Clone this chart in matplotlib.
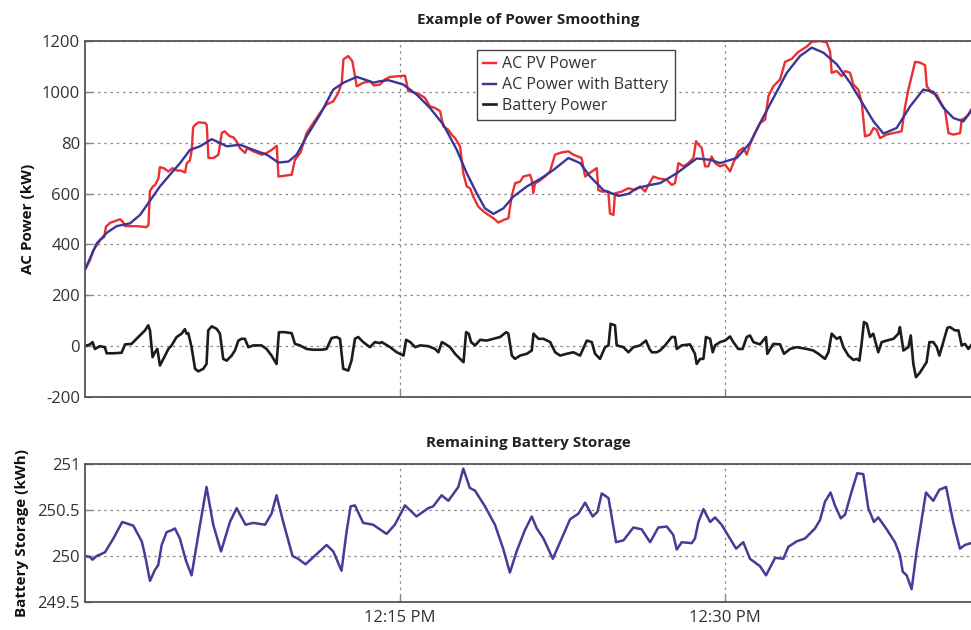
import numpy as np
import matplotlib
matplotlib.use("Agg")
import matplotlib.pyplot as plt
from matplotlib.ticker import FixedLocator, FixedFormatter

plt.rcParams['font.family'] = ['Open Sans', 'DejaVu Sans']

# time is minutes after 12:00 PM
pv_t = [0.46, 0.7, 0.85, 1.16, 1.35, 1.43, 1.62, 2.08, 2.2, 2.31, 2.85, 3.3, 3.39, 3.46, 3.6, 3.7, 3.85, 3.92,
        4.1, 4.31, 4.5, 4.69, 4.9, 5.08, 5.16, 5.3, 5.39, 5.45, 5.54, 5.7, 6.0, 6.08, 6.16, 6.4, 6.62, 6.77,
        6.9, 7.15, 7.3, 7.46, 7.6, 7.85, 7.95, 8.23, 8.62, 8.85, 9.08, 9.31, 9.39, 10.0, 10.15, 10.4, 10.69,
        11.0, 11.31, 11.6, 11.92, 12.15, 12.31, 12.39, 12.61, 12.8, 13.0, 13.31, 13.62, 13.8, 14.08,
        14.31, 14.54, 15.0, 15.23, 15.38, 15.61, 15.92, 16.15, 16.38, 16.61, 16.85, 17.0, 17.23, 17.38,
        17.54, 17.77, 17.92, 18.08, 18.23, 18.38, 18.61, 18.85, 19.08, 19.31, 19.54, 19.77, 20.0, 20.15,
        20.31, 20.54, 20.69, 21.0, 21.08, 21.15, 21.23, 21.38, 21.69, 21.92, 22.15, 22.46, 22.77, 23.0,
        23.38, 23.54, 23.85, 24.08, 24.15, 24.31, 24.61, 24.69, 24.85, 24.92, 25.23, 25.54, 25.85, 26.08,
        26.31, 26.46, 26.69, 26.92,
        27.31, 27.54, 27.69, 27.85, 28.08, 28.31, 28.54, 28.66, 28.77, 28.92, 29.08, 29.23, 29.38, 29.54,
        29.77, 30.0, 30.23, 30.38, 30.62, 30.85, 31.0, 31.15, 31.38, 31.62, 31.85, 32.0, 32.23, 32.54,
        32.77, 33.08, 33.38, 33.77, 34.0, 34.38, 34.69, 34.85, 34.92, 35.15, 35.38, 35.54, 35.77, 35.92,
        36.15, 36.31, 36.46, 36.69, 36.85, 37.0, 37.15, 37.46, 37.77, 38.15, 38.31, 38.46, 38.77, 39.0,
        39.23, 39.31, 39.54, 39.77, 39.92, 40.15, 40.31, 40.54, 40.85, 40.92, 41.08, 41.23, 41.35]
pv_kw = [300, 340, 378, 417, 430, 470, 485, 499, 490, 472, 472, 468, 476, 610, 628, 634, 660, 704,
         700, 687, 700, 691, 690, 683, 720, 730, 772, 860, 870, 880, 878, 870, 740, 740, 753, 838,
         845, 825, 822, 805, 780, 760, 779, 766, 753, 760, 772, 788, 667, 674, 733, 760, 838,
         878, 917, 950, 963, 996, 1036, 1128, 1141, 1121, 1022, 1036, 1042, 1025, 1029,
         1049, 1059, 1062, 1064, 1003, 999, 989, 976, 943, 937, 924, 864, 851, 832,
         818, 786, 680, 628, 621, 588, 549, 530, 516, 503, 486, 496, 503, 588,
         641, 647, 667, 674, 654, 601, 641, 647, 667, 687, 753, 762, 766, 753,
         740, 667, 687, 700, 614, 608, 608, 522, 516, 601, 608, 621, 614, 628,
         608, 634, 667, 660,
         654, 634, 641, 720, 707, 720, 740, 806, 793, 780, 707, 707, 746, 720,
         707, 714, 687, 720, 766, 780, 753, 793, 838, 878, 891, 983, 1022, 1049,
         1118, 1130, 1157, 1178, 1197, 1200, 1195, 1157, 1075, 1082, 1062, 1082, 1075, 1029,
         1009, 957, 825, 832, 858, 851, 818, 832, 838, 845, 943, 1009, 1118, 1115,
         1105, 1022, 996, 989, 963, 930, 838, 832, 838, 891, 898, 911, 930]

ac_t = [0.46, 1.0, 1.47, 1.92, 2.54, 3.0, 3.46, 3.92, 4.38, 4.85, 5.31, 5.77, 6.31, 6.69, 7.0, 7.62,
        8.23, 8.85, 9.39, 9.85, 10.23, 10.69, 11.31, 11.92, 12.39, 13.0, 13.46, 13.77, 14.08, 14.46,
        15.15, 15.77, 16.38, 17.0, 17.62, 18.08, 18.54, 18.92, 19.31, 19.77, 20.23, 20.85, 21.46,
        22.08, 22.77, 23.31, 23.77, 24.38, 25.08, 25.54, 25.92, 26.54, 27.0, 27.77, 28.69, 29.31,
        29.77, 30.54, 31.15, 31.62, 32.23, 32.85, 33.46, 34.0, 34.54, 35.15, 35.77, 36.38, 36.85,
        37.31, 37.92, 38.54, 39.15, 39.62, 40.08, 40.54, 41.0, 41.35]
ac_kw = [301, 404, 446, 472, 483, 516, 572, 628, 674, 720, 772, 786, 814, 799, 786, 792,
         772, 753, 722, 726, 753, 825, 911, 1009, 1036, 1059, 1046, 1036, 1042, 1046,
         1029, 989, 937, 871, 772, 680, 601, 542, 520, 542, 588, 628, 657,
         693, 740, 720, 667, 614, 591, 599, 621, 634, 641, 680, 738, 733,
         720, 740, 799, 878, 976, 1075, 1141, 1174, 1154, 1109, 1036, 950, 884,
         836, 858, 943, 1009, 1000, 937, 897, 884, 924]

batt_t = [0.46, 0.69, 0.81, 0.92, 1.15, 1.38, 1.46, 1.77, 2.15, 2.31, 2.61, 2.84, 3.23, 3.38, 3.46, 3.58,
          3.69, 3.80, 3.92, 4.08, 4.31, 4.46, 4.69, 4.92, 5.07, 5.15, 5.23, 5.38, 5.54, 5.69, 5.92, 6.07,
          6.15, 6.31, 6.54, 6.69, 6.84, 7.0, 7.23, 7.38, 7.54, 7.69, 7.84, 8.0, 8.23, 8.61, 8.84, 9.07,
          9.30, 9.41, 9.69, 10.0, 10.15, 10.38, 10.69, 11.0, 11.38, 11.61, 11.84, 12.07, 12.23, 12.38,
          12.61, 12.76, 12.92, 13.07, 13.30, 13.61, 13.84, 14.07,
          14.16, 14.54, 14.85, 15.16, 15.28, 15.47, 15.70, 15.93, 16.31, 16.62, 16.77, 16.93, 17.08,
          17.31, 17.54, 17.77, 17.93, 18.05, 18.17, 18.28, 18.46, 18.70, 19.0, 19.31, 19.62, 19.90,
          20.0, 20.16, 20.31, 20.54, 20.85, 21.08, 21.16, 21.39, 21.62, 21.93, 22.16, 22.39, 22.69,
          23.0, 23.31, 23.62, 23.85, 24.0, 24.23, 24.46, 24.62, 24.72, 24.92, 25.0, 25.31, 25.54,
          25.77, 26.08, 26.35, 26.51, 26.62, 26.85,
          27.0, 27.23, 27.54, 27.69, 27.77, 28.0, 28.38, 28.61, 28.69, 28.85, 29.0, 29.12, 29.31,
          29.43, 29.54, 29.77, 30.0, 30.23, 30.38, 30.61, 30.81, 31.0, 31.15, 31.31, 31.61, 31.89,
          31.95, 32.23, 32.54, 32.72, 33.0, 33.31, 33.77, 34.07, 34.31, 34.61, 34.77, 34.92, 35.15,
          35.31, 35.46, 35.69, 35.92, 36.07, 36.20, 36.30, 36.41, 36.54, 36.69, 36.84, 37.07, 37.23,
          37.46, 37.77, 38.0, 38.07, 38.23, 38.46, 38.57, 38.69, 38.81, 39.0, 39.15, 39.30, 39.43,
          39.61, 39.77, 39.89, 40.07, 40.26, 40.38, 40.61, 40.77, 40.92, 41.07, 41.23, 41.35]
batt_kw = [0, 7, 16, -11, 0, -4, -28, -28, -26, 7, 9, 29, 62, 82, 62, -43,
           -24, -11, -76, -50, -11, 3, 36, 49, 67, 49, 51, -4, -89, -99, -89, -70,
           62, 78, 68, 49, -50, -57, -37, -17, 22, 29, 29, -4, 3, 3, -11, -37,
           -70, 55, 55, 51, 9, 3, -11, -14, -14, -11, 32, 36, 29, -89,
           -96, -57, 29, 36, 16, -4, 16, 12,
           16, -4, -24, -37, 25, 16, -4, 3, 0, -11, -24, 16, 9,
           -4, -30, -50, -63, 55, 49, 16, 3, 25, 22, 29, 36, 55,
           49, -37, -50, -37, -30, -17, 49, 29, 29, 16, -24, -37, -30,
           -24, -37, 22, 16, -30, -50, -4, 3, 88, 82, 3, -4, -24,
           -4, 3, 22, -11, -24, -24,
           -17, 3, 36, 36, -11, 3, 7, -30, -70, -50, -50, 36, 29,
           -24, 3, 16, 22, 38, 16, -11, -11, 36, 42, 16, 7, 36,
           -30, 9, 7, -30, -11, -4, -11, -17, -30, -50, -24, 49, 29,
           36, -4, -37, -54, -50, -57, 9, 95, 88, 36, 49, -24, 16,
           22, 29, 49, 75, -17, -4, 42, -70, -122, -103, -83, -63, 16,
           16, -4, -37, 16, 72, 75, 62, 62, 3, 9, -11, 3]

soc_t = [0.46, 0.69, 0.81, 1.0, 1.38, 1.77, 2.18, 2.69, 3.08, 3.23, 3.46, 3.69, 3.84, 4.0, 4.23, 4.46,
         4.61, 4.84, 5.12, 5.38, 5.69, 6.07, 6.38, 6.74, 7.15, 7.46, 7.87, 8.23, 8.77, 9.07, 9.30, 9.61,
         10.04, 10.30, 10.64, 11.15, 11.61, 11.92, 12.30, 12.53, 12.72, 12.92, 13.30, 13.76, 14.38,
         14.76, 15.23, 15.76, 16.30, 16.53, 16.92, 17.23, 17.69, 17.92, 18.22, 18.46, 18.92, 19.38,
         19.76, 20.07, 20.38, 20.76, 21.08, 21.31, 21.62, 22.05, 22.46, 22.85, 23.23, 23.54, 23.89,
         24.11, 24.31, 24.62, 24.97, 25.31, 25.77, 26.15, 26.54, 26.92, 27.31, 27.61, 27.77, 28.0,
         28.46, 28.61, 28.77, 29.0, 29.31, 29.54, 29.84, 30.23, 30.51, 30.84, 31.15, 31.61, 31.89,
         32.31, 32.69, 32.92, 33.31, 33.69, 34.15, 34.38, 34.61, 34.87, 35.07, 35.34, 35.54, 35.84,
         36.10, 36.38, 36.61, 36.87, 37.07, 37.46, 37.84, 38.07, 38.20, 38.38, 38.61, 38.84, 39.27,
         39.61, 39.89, 40.20, 40.53, 40.84, 41.07, 41.35]
soc_kwh = [250.0, 249.99, 249.96, 250.0, 250.04, 250.19, 250.37, 250.33, 250.16, 250.01, 249.73, 249.85,
           249.90, 250.12, 250.26, 250.28, 250.30, 250.19, 249.95, 249.79, 250.23, 250.75, 250.34,
           250.05, 250.37, 250.52, 250.34, 250.36, 250.34, 250.46, 250.66, 250.37, 250.0, 249.97,
           249.91, 250.02, 250.12, 250.05, 249.84, 250.26, 250.54, 250.55, 250.36, 250.34, 250.24,
           250.34, 250.55, 250.43, 250.52, 250.54, 250.66, 250.60, 250.75, 250.95, 250.74, 250.71,
           250.54, 250.34, 250.08, 249.82, 250.05, 250.28, 250.43, 250.30, 250.19, 249.97, 250.19,
           250.40, 250.46, 250.58, 250.43, 250.48, 250.68, 250.63, 250.15, 250.17, 250.31, 250.29,
           250.15, 250.31, 250.32, 250.23, 250.07, 250.15, 250.14, 250.19, 250.37, 250.51, 250.37,
           250.42, 250.34, 250.19, 250.08, 250.15, 249.97, 249.89, 249.79, 249.98, 249.97, 250.10,
           250.16, 250.19, 250.30, 250.39, 250.59, 250.69, 250.55, 250.41, 250.45, 250.70, 250.90,
           250.89, 250.52, 250.37, 250.42, 250.29, 250.15, 250.01, 249.83, 249.79, 249.64, 250.05,
           250.69, 250.60, 250.72, 250.75, 250.37, 250.08, 250.12, 250.14]

xticks = [15, 30]
xlabels = ["12:15 PM", "12:30 PM"]
power_ticks = [-200, 0, 200, 400, 600, 800, 1000, 1200]
power_labels = ["-200", "0", "200", "400", "600", "80", "1000", "1200"]   # "80" as printed
soc_ticks = [249.5, 250, 250.5, 251]
soc_labels = ["249.5", "250", "250.5", "251"]

fig = plt.figure(figsize=(9.71, 6.30), dpi=100)
ax1 = fig.add_axes([0.0875, 0.3698, 0.9125, 0.5651])
ax2 = fig.add_axes([0.0875, 0.0444, 0.9125, 0.2191])

def style(ax):
    for s in ['left', 'top', 'bottom']:
        ax.spines[s].set_color('#555555')
        ax.spines[s].set_linewidth(1.3)
    ax.spines['right'].set_visible(False)
    ax.grid(True, linestyle=(0, (2, 3)), color='#8a8a8a', linewidth=0.9)
    ax.set_axisbelow(True)
    ax.tick_params(direction='in', length=5, width=1, color='#888888', labelcolor='#333333',
                   labelsize=12, right=False, top=False)
    ax.set_xlim(0.46, 41.35)
    ax.xaxis.set_major_locator(FixedLocator(xticks))

# top panel
ax1.plot(pv_t, pv_kw, color='#ec2f2f', lw=1.7, label='AC PV Power')
ax1.plot(ac_t, ac_kw, color='#3a3598', lw=1.7, label='AC Power with Battery')
ax1.plot(batt_t, batt_kw, color='#1c1c1c', lw=1.9, label='Battery Power')
style(ax1)
ax1.set_ylim(-200, 1200)
ax1.yaxis.set_major_locator(FixedLocator(power_ticks))
ax1.yaxis.set_major_formatter(FixedFormatter(power_labels))
ax1.set_xticklabels([])
ax1.set_title('Example of Power Smoothing', fontsize=11, fontweight='bold', color='#222222', pad=12)
ax1.set_ylabel('AC Power (kW)', fontsize=11, fontweight='bold', color='#111111', labelpad=5)
leg = ax1.legend(loc='upper left', bbox_to_anchor=(0.442, 0.975), borderaxespad=0, fontsize=11.5,
                 handlelength=0.8, handletextpad=0.4, fancybox=False, edgecolor='#444444',
                 framealpha=1, borderpad=0.4, labelspacing=0.3)
leg.get_frame().set_linewidth(1.0)
for t in leg.get_texts():
    t.set_color('#333333')

# bottom panel
ax2.plot(soc_t, soc_kwh, color='#473b98', lw=1.8)
style(ax2)
ax2.set_ylim(249.5, 251)
ax2.yaxis.set_major_locator(FixedLocator(soc_ticks))
ax2.yaxis.set_major_formatter(FixedFormatter(soc_labels))
ax2.set_xticklabels(xlabels)
ax2.tick_params(axis='x', pad=6)
ax2.set_title('Remaining Battery Storage', fontsize=11, fontweight='bold', color='#222222', pad=12)
ax2.set_ylabel('Battery Storage (kWh)', fontsize=11, fontweight='bold', color='#111111', labelpad=6)

fig.savefig('out.png', dpi=100)
